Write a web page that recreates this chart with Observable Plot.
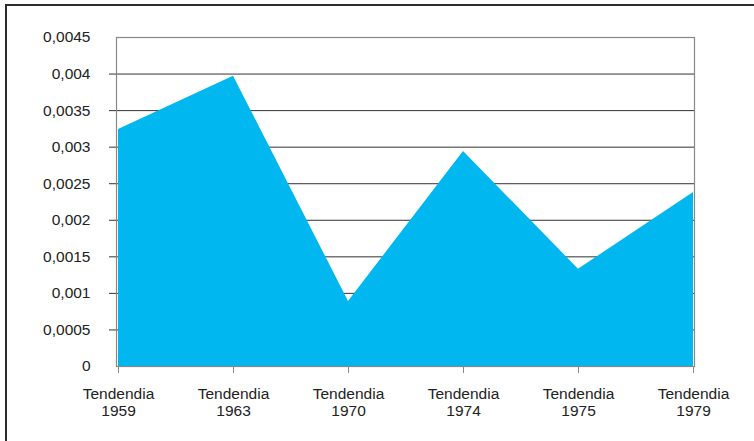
<!DOCTYPE html>
<html>
<head>
<meta charset="utf-8">
<script src="https://cdn.jsdelivr.net/npm/d3@7"></script>
<script src="https://cdn.jsdelivr.net/npm/@observablehq/plot@0.6"></script>
<style>
  body { margin: 0; background: #fff; }
  #chart { position: relative; width: 754px; height: 441px; overflow: hidden; }
  #chart svg { position: absolute; left: 0; top: 0; background: transparent; }
  #box { position: absolute; left: 5px; top: 4px; width: 800px; height: 500px;
         border-left: 2px solid #2b2b2b; border-top: 2px solid #2b2b2b; pointer-events: none; }
</style>
</head>
<body>
<div id="chart"></div>
<script>
// Periods along the x axis and the value for each
const periods = ["Tendendia\n1959", "Tendendia\n1963", "Tendendia\n1970", "Tendendia\n1974", "Tendendia\n1975", "Tendendia\n1979"];
const values = [0.00324, 0.00397, 0.00089, 0.00294, 0.00133, 0.00238];
const yTicks = [0, 0.0005, 0.001, 0.0015, 0.002, 0.0025, 0.003, 0.0035, 0.004, 0.0045];
const gridTicks = [0.0005, 0.001, 0.0015, 0.002, 0.0025, 0.003, 0.0035, 0.004];

const data = periods.map((p, i) => ({period: p, value: values[i]}));
const fmt = d => String(+d.toFixed(4)).replace(".", ",");

const chart = Plot.plot({
  width: 754,
  height: 441,
  marginLeft: 116,
  marginRight: 60,
  marginTop: 37,
  marginBottom: 75,
  style: {fontFamily: "'Liberation Sans', Arial, sans-serif", fontSize: "15.5px", color: "#222", background: "transparent"},
  x: {type: "point", domain: periods, padding: 0},
  y: {domain: [0, 0.0045]},
  marks: [
    Plot.ruleY(gridTicks, {stroke: "#333", strokeWidth: 1}),
    Plot.areaY(data, {x: "period", y: "value", fill: "#00b7ef", curve: "linear"}),
    Plot.frame({stroke: "#888", strokeWidth: 1.2}),
    Plot.axisY(gridTicks, {tickSize: 7, stroke: "#333", text: null, label: null}),
    Plot.axisY(yTicks, {tickSize: 0, tickPadding: 26, tickFormat: fmt, label: null, fill: "#222"}),
    Plot.axisX({tickSize: 7, stroke: "#888", tickPadding: 14, label: null, fill: "#222", lineHeight: 1.07})
  ]
});

const host = document.getElementById("chart");
host.appendChild(chart);
const box = document.createElement("div");
box.id = "box";
host.appendChild(box);
</script>
</body>
</html>
